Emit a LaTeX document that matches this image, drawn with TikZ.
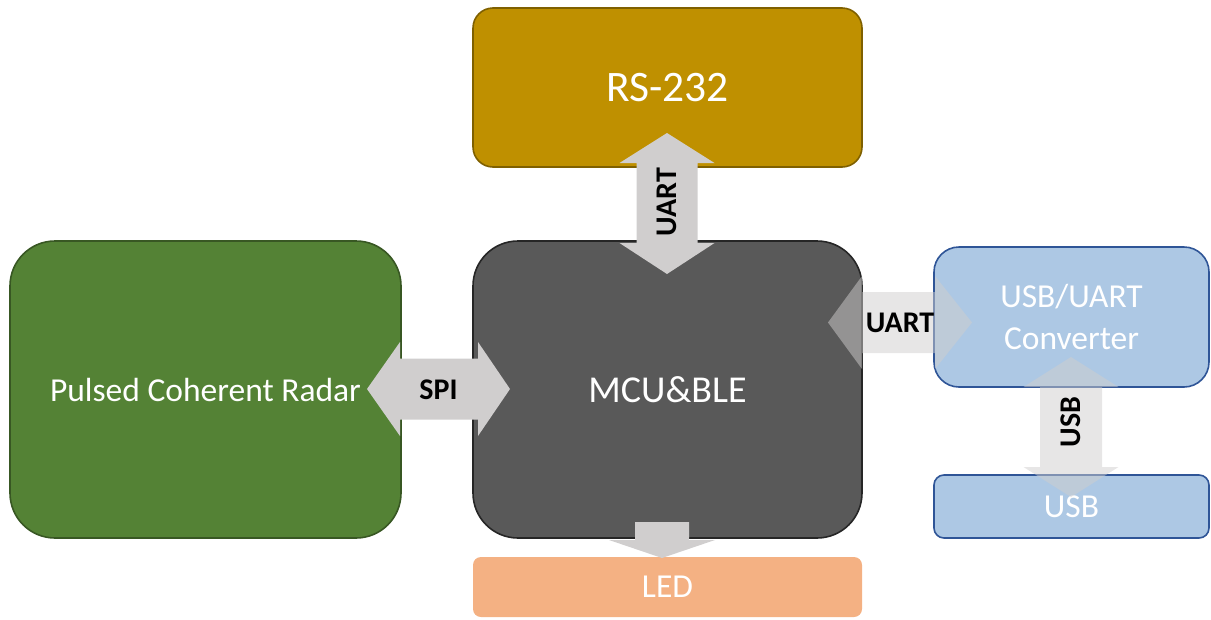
\documentclass[tikz,border=0pt]{standalone}
\usepackage{fontspec}
\setmainfont{Carlito}
\usetikzlibrary{calc}
\definecolor{rsfill}{HTML}{BF9000}
\definecolor{rsdraw}{HTML}{7F6000}
\definecolor{radfill}{HTML}{548235}
\definecolor{raddraw}{HTML}{385723}
\definecolor{mcufill}{HTML}{595959}
\definecolor{mcudraw}{HTML}{262626}
\definecolor{bluefill}{HTML}{ADC8E4}
\definecolor{bluedraw}{HTML}{2F5597}
\definecolor{ledfill}{HTML}{F4B183}
\definecolor{arrfill}{HTML}{D0CECE}
\tikzset{
  box/.style={rectangle, line width=1.6pt, text=white, align=center, inner sep=0pt,
    font=\fontsize{33.5}{42}\selectfont},
  lbl/.style={font=\bfseries\fontsize{30}{34}\selectfont, text=black, inner sep=0pt},
  arrsolid/.style={fill=arrfill},
  arrtrans/.style={fill=arrfill, fill opacity=0.5},
}
\begin{document}
\begin{tikzpicture}[x=1pt,y=-1pt]
\useasboundingbox (0,0) rectangle (1211,619);
% boxes
\node[box, fill=rsfill, draw=rsdraw, rounded corners=20pt, minimum width=389pt, minimum height=159pt,
  font=\fontsize{43.5}{50}\selectfont] (rs) at (667.5,87.5) {RS-232};
\node[box, fill=radfill, draw=raddraw, rounded corners=45pt, minimum width=391pt, minimum height=297pt] (rad) at (205.5,389.5) {Pulsed Coherent Radar};
\node[box, fill=mcufill, draw=mcudraw, rounded corners=45pt, minimum width=389pt, minimum height=297pt,
  font=\fontsize{38}{44}\selectfont] (mcu) at (667.5,389.5) {MCU\&BLE};
\node[box, fill=bluefill, draw=bluedraw, rounded corners=25pt, minimum width=275pt, minimum height=140pt] (conv) at (1071.5,317) {USB/UART\\Converter};
\node[box, fill=bluefill, draw=bluedraw, rounded corners=10pt, minimum width=275pt, minimum height=63pt] (usb) at (1071.5,506.5) {USB};
\node[box, fill=ledfill, draw=none, rounded corners=8pt, minimum width=389pt, minimum height=60pt] (led) at (667.5,587) {\raisebox{-3pt}{LED}};
% arrow end points
\coordinate (ua) at (667,133);
\coordinate (ub) at (667,274);
\coordinate (sa) at (367,389);
\coordinate (sb) at (510,389);
\coordinate (ra) at (828,322.5);
\coordinate (rb) at (972,322.5);
\coordinate (va) at (1071,357);
\coordinate (vb) at (1071,497);
\coordinate (la) at (662,522);
\coordinate (lb) at (662,558);
% UART vertical (RS-232 <-> MCU)
\fill[arrsolid] (ua) -- ($(ua)+(47.5,30)$) -- ($(ua)+(30.5,30)$) -- ($(ub)+(30.5,-31)$) -- ($(ub)+(47.5,-31)$)
  -- (ub) -- ($(ub)+(-47.5,-31)$) -- ($(ub)+(-30.5,-31)$) -- ($(ua)+(-30.5,30)$) -- ($(ua)+(-47.5,30)$) -- cycle;
\node[lbl, rotate=90] (uartv) at ($(ua)!0.49!(ub)$) {UART};
% SPI (Radar <-> MCU)
\fill[arrsolid] (sa) -- ($(sa)+(33,-47)$) -- ($(sa)+(33,-30.5)$) -- ($(sb)+(-32,-30.5)$) -- ($(sb)+(-32,-47)$)
  -- (sb) -- ($(sb)+(-32,47)$) -- ($(sb)+(-32,30.5)$) -- ($(sa)+(33,30.5)$) -- ($(sa)+(33,47)$) -- cycle;
\node[lbl] (spi) at ($(sa)!0.5!(sb)+(0,1)$) {SPI};
% UART horizontal (MCU <-> Converter)
\fill[arrtrans] (ra) -- ($(ra)+(34,-46.5)$) -- ($(ra)+(34,-30.5)$) -- ($(rb)+(-37,-30.5)$) -- ($(rb)+(-37,-46.5)$)
  -- (rb) -- ($(rb)+(-37,46.5)$) -- ($(rb)+(-37,30.5)$) -- ($(ra)+(34,30.5)$) -- ($(ra)+(34,46.5)$) -- cycle;
\node[lbl] (uarth) at (900,323) {UART};
% USB vertical (Converter <-> USB)
\fill[arrtrans] (va) -- ($(va)+(47.5,30)$) -- ($(va)+(31,30)$) -- ($(vb)+(31,-30)$) -- ($(vb)+(47.5,-30)$)
  -- (vb) -- ($(vb)+(-47.5,-30)$) -- ($(vb)+(-31,-30)$) -- ($(va)+(-31,30)$) -- ($(va)+(-47.5,30)$) -- cycle;
\node[lbl, rotate=90] (usbv) at (1071,422) {USB};
% LED arrow (MCU -> LED)
\fill[arrsolid] ($(la)+(-27,0)$) -- ($(la)+(27,0)$) -- ($(la)+(27,18)$) -- ($(la)+(53,18)$) -- (lb)
  -- ($(la)+(-53,18)$) -- ($(la)+(-27,18)$) -- cycle;
\end{tikzpicture}
\end{document}
